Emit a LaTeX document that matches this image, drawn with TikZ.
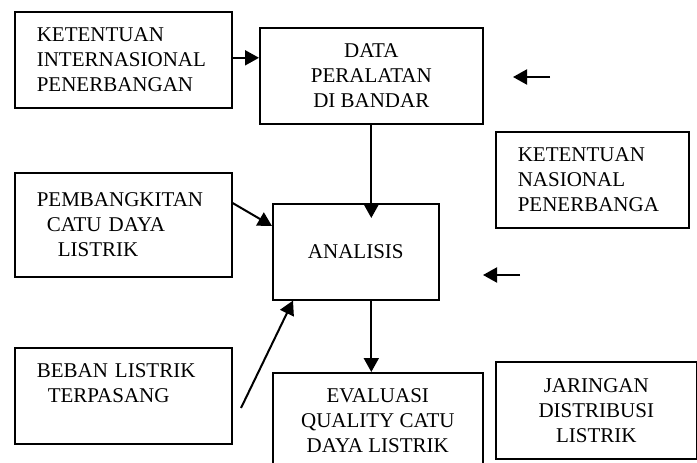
\documentclass[tikz,border=0pt]{standalone}
\usepackage{fontspec}
\setmainfont{Liberation Serif}
\usepackage{tikz}
\usetikzlibrary{
    calc,
    arrows.meta,
    positioning
}
\tikzset{
    box/.style={draw, line width=1.6pt, anchor=north west, inner sep=0pt,
        minimum height=96pt, font=\fontsize{21}{25}\selectfont},
    flow/.style={line width=2pt, -{Triangle[length=14pt,width=15pt]}}
}

\begin{document}
\begin{tikzpicture}[x=1pt, y=-1pt,
            lbox/.style={box, align=left, text width=#1-44pt, minimum width=#1},
            cbox/.style={box, align=center, minimum width=#1}
        ]
        \clip (0,0) rectangle (697,463);
        \node[lbox=217pt] (intl) at (14,11) {KETENTUAN\\INTERNASIONAL\\PENERBANGAN};
        \node[cbox=223pt] (data) at (259,27) {DATA\\PERALATAN\\DI BANDAR};
        \node[lbox=193pt] (nas) at (495,131) {KETENTUAN\\NASIONAL\\PENERBANGA};
        \node[lbox=217pt, minimum height=104pt] (gen) at (14,172)
            {PEMBANGKITAN\\\hspace*{10pt}CATU DAYA\\\hspace*{21pt}LISTRIK};
        \node[cbox=166pt] (anl) at (272,203) {ANALISIS};
        \node[lbox=217pt] (beban) at (14,347) {BEBAN LISTRIK\\\hspace*{11pt}TERPASANG\\~};
        \node[cbox=210pt] (eval) at (272,372) {EVALUASI\\QUALITY CATU\\DAYA LISTRIK};
        \node[cbox=201pt, minimum height=97pt] (jar) at (495,361) {JARINGAN\\DISTRIBUSI\\LISTRIK};

        \coordinate (bebanout) at (241,408);
        \coordinate (nasin) at (550,77);
        \coordinate (nastip) at (513,77);
        \coordinate (jarin) at (520,275);
        \coordinate (jartip) at (483,275);

        \draw[flow] ([yshift=2pt]intl.east) -- ([yshift=2pt]intl.east -| data.west);
        \draw[flow] (data.south) -- ([yshift=-15pt]anl.north -| data.south);
        \draw[flow] (anl.south -| data.south) -- (eval.north -| data.south);
        \draw[flow] ([yshift=-31pt]gen.north east) -- ([yshift=-23pt]anl.north west);
        \draw[flow] (bebanout) -- ([xshift=21pt]anl.south west);
        \draw[flow] (nasin) -- (nastip);
        \draw[flow] (jarin) -- (jartip);
    \end{tikzpicture}
\end{document}
